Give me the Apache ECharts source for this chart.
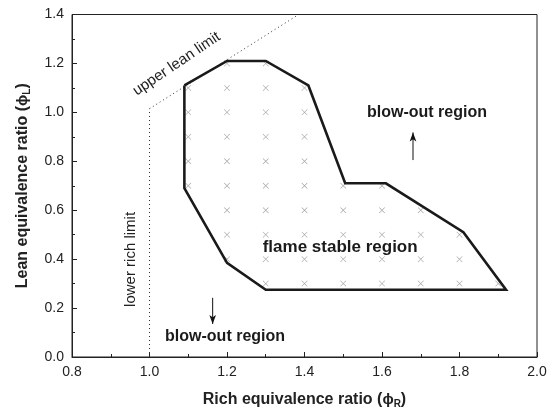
<!DOCTYPE html>
<html><head><meta charset="utf-8">
<script src="https://cdn.jsdelivr.net/npm/echarts@6/dist/echarts.min.js"></script>
<style>html,body{margin:0;padding:0;background:#fff}#c{width:554px;height:414px}</style>
</head><body><div id="c"></div>
<script>
// Stability boundary (phi_R, phi_L)
const boundaryX = [1.09, 1.20, 1.30, 1.41, 1.505, 1.61, 1.81, 1.92, 1.30, 1.20, 1.09, 1.09];
const boundaryY = [1.11, 1.21, 1.21, 1.11, 0.71, 0.71, 0.51, 0.275, 0.275, 0.385, 0.69, 1.11];
// Tested operating points (x marks), one column per phi_R
const pointX = [1.1, 1.2, 1.3, 1.4, 1.5, 1.6, 1.7, 1.8, 1.9];
const pointYCols = [
  [0.7, 0.8, 0.9, 1.0, 1.1],
  [0.4, 0.5, 0.6, 0.7, 0.8, 0.9, 1.0, 1.1, 1.2],
  [0.3, 0.4, 0.5, 0.6, 0.7, 0.8, 0.9, 1.0, 1.1, 1.2],
  [0.3, 0.4, 0.5, 0.6, 0.7, 0.8, 0.9, 1.0, 1.1],
  [0.3, 0.4, 0.5, 0.6, 0.7],
  [0.3, 0.4, 0.5, 0.6, 0.7],
  [0.3, 0.4, 0.5, 0.6],
  [0.3, 0.4, 0.5],
  [0.3]
];
// Limit lines
const lowerRichX = [1.0, 1.0];
const lowerRichY = [0.0, 1.015];
const upperLeanX = [1.0, 1.385];
const upperLeanY = [1.015, 1.4];
// Arrows
const arrowUpX = [1.68, 1.68], arrowUpY = [0.805, 0.918];
const arrowDownX = [1.163, 1.163], arrowDownY = [0.242, 0.135];
// Axis ticks
const xTicks = [0.8, 1.0, 1.2, 1.4, 1.6, 1.8, 2.0];
const yTicks = [0.0, 0.2, 0.4, 0.6, 0.8, 1.0, 1.2, 1.4];
// Annotations [text, x, y]
const notes = [
  ['blow-out region', 1.716, 0.998],
  ['flame stable region', 1.492, 0.45],
  ['blow-out region', 1.195, 0.082]
];
const upperLeanLabel = ['upper lean limit', 1.070, 1.198];
const lowerRichLabel = ['lower rich limit', 0.952, 0.399];

const FONT = '"Liberation Sans", Arial, sans-serif';
const pts = [];
pointX.forEach((x, i) => pointYCols[i].forEach(y => pts.push([x, y])));
const zip = (a, b) => a.map((v, i) => [v, b[i]]);

const chart = echarts.init(document.getElementById('c'), null, {renderer: 'canvas'});
const axisCommon = {
  interval: 0.2,
  axisLine: {show: true, onZero: false, lineStyle: {color: '#222', width: 1}},
  axisTick: {show: true, inside: true, length: 5, lineStyle: {color: '#222'}},
  minorTick: {show: true, splitNumber: 2, length: 3, lineStyle: {color: '#222'}},
  splitLine: {show: false},
  axisLabel: {color: '#222', fontSize: 14, fontFamily: FONT, formatter: v => v.toFixed(1)},
  nameLocation: 'middle',
  nameTextStyle: {color: '#222', fontSize: 16, fontWeight: 'bold', fontFamily: FONT,
    rich: {
      b: {fontSize: 16, fontWeight: 'bold', fontFamily: FONT, color: '#222'},
      phi: {fontSize: 15, fontFamily: FONT, color: '#222'},
      sub: {fontSize: 10, fontWeight: 'bold', fontFamily: FONT, color: '#222', verticalAlign: 'bottom', padding: [8, 0, 0, 0]}
    }}
};
chart.setOption({
  animation: false,
  backgroundColor: '#fff',
  grid: {left: 72, right: 17, top: 14.5, bottom: 57, show: true, borderColor: '#222', borderWidth: 1, backgroundColor: 'transparent'},
  xAxis: Object.assign({}, axisCommon, {type: 'value', min: xTicks[0], max: xTicks[xTicks.length-1],
    name: '{b|Rich equivalence ratio (}{phi|ϕ}{sub|R}{b|)}', nameGap: 34,
    axisLabel: Object.assign({}, axisCommon.axisLabel, {margin: 8})}),
  yAxis: Object.assign({}, axisCommon, {type: 'value', min: yTicks[0], max: yTicks[yTicks.length-1],
    name: '{b|Lean equivalence ratio (}{phi|ϕ}{sub|L}{b|)}', nameGap: 40,
    axisLabel: Object.assign({}, axisCommon.axisLabel, {margin: 8})}),
  series: [
    {type: 'line', data: zip(lowerRichX, lowerRichY), symbol: 'none', lineStyle: {color: '#333', width: 1, type: [1, 3]}, silent: true},
    {type: 'line', data: zip(upperLeanX, upperLeanY), symbol: 'none', lineStyle: {color: '#333', width: 1, type: [1, 3]}, silent: true},
    {type: 'scatter', data: pts, symbol: 'path://M0,0.7L0.7,0L5,4.3L9.3,0L10,0.7L5.7,5L10,9.3L9.3,10L5,5.7L0.7,10L0,9.3L4.3,5Z', symbolSize: 6,
      itemStyle: {color: '#8a8a8a'}, silent: true},
    {type: 'line', data: zip(boundaryX, boundaryY), symbol: 'none', lineStyle: {color: '#1a1a1a', width: 2.6, join: 'miter'}, silent: true},
    {type: 'line', data: [{value: [arrowUpX[0], arrowUpY[0]], symbol: 'none'}, {value: [arrowUpX[1], arrowUpY[1]], symbol: 'arrow', symbolSize: [5, 9]}],
      lineStyle: {color: '#111', width: 1}, itemStyle: {color: '#111'}, silent: true},
    {type: 'line', data: [{value: [arrowDownX[0], arrowDownY[0]], symbol: 'none'}, {value: [arrowDownX[1], arrowDownY[1]], symbol: 'arrow', symbolSize: [5, 9], symbolRotate: 180}],
      lineStyle: {color: '#111', width: 1}, itemStyle: {color: '#111'}, silent: true}
  ]
});

const px = (x, y) => chart.convertToPixel({gridIndex: 0}, [x, y]);
const graphics = [];
notes.forEach(([t, x, y], i) => {
  const p = px(x, y);
  graphics.push({type: 'text', x: p[0], y: p[1], style: {text: t, fill: '#1a1a1a', font: 'bold ' + (i === 1 ? 17 : 16) + 'px ' + FONT, align: 'center', verticalAlign: 'middle'}});
});
{
  const p = px(upperLeanLabel[1], upperLeanLabel[2]);
  graphics.push({type: 'text', x: p[0], y: p[1], rotation: 34 * Math.PI / 180, style: {text: upperLeanLabel[0], fill: '#222', font: '15px ' + FONT, align: 'center', verticalAlign: 'middle'}});
}
{
  const p = px(lowerRichLabel[1], lowerRichLabel[2]);
  graphics.push({type: 'text', x: p[0], y: p[1], rotation: Math.PI / 2, style: {text: lowerRichLabel[0], fill: '#222', font: '15px ' + FONT, align: 'center', verticalAlign: 'middle'}});
}
chart.setOption({graphic: graphics});
</script></body></html>
